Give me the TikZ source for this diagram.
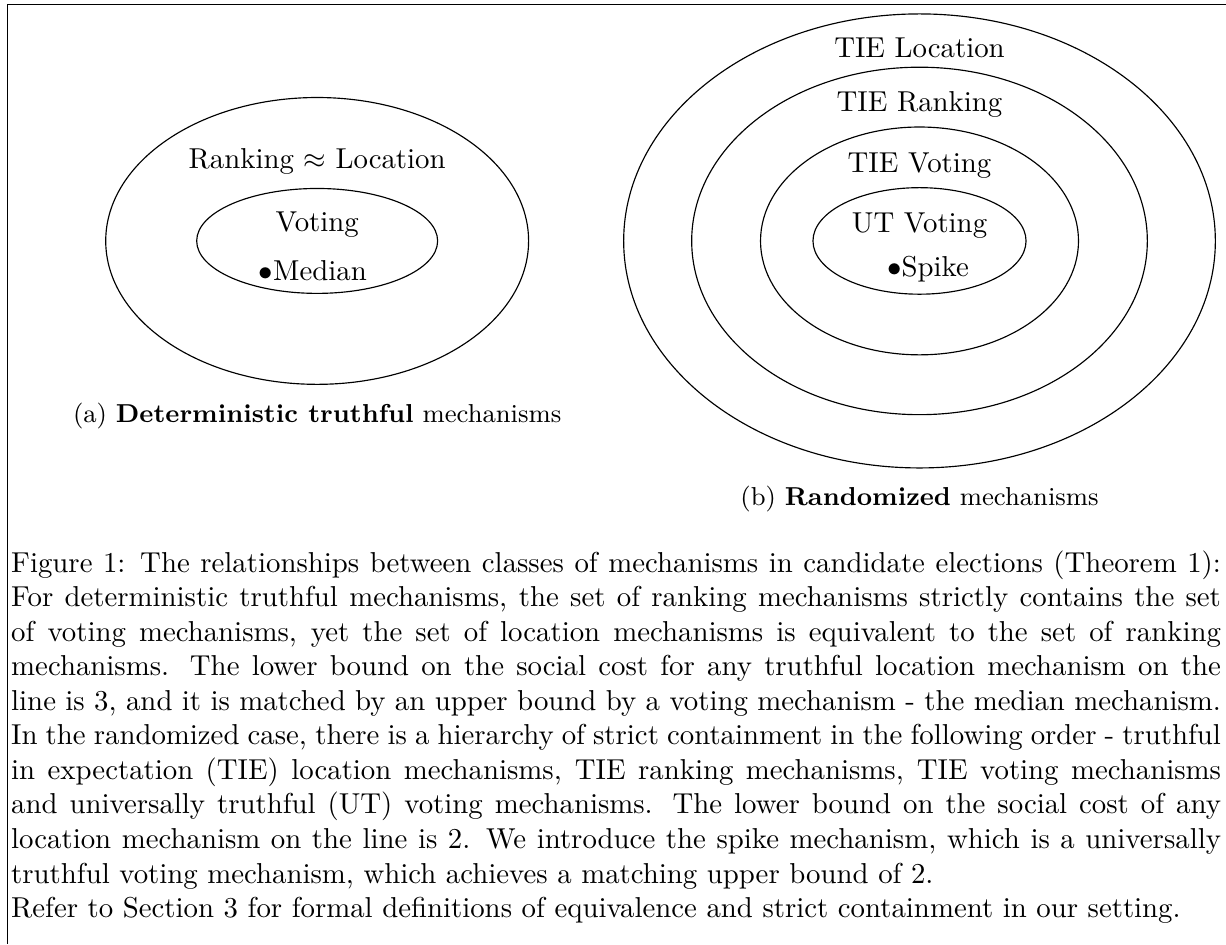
\documentclass[tikz,border=0pt]{standalone}
\usepackage{amsmath,amssymb}
\usepackage{tikz}
\usetikzlibrary{positioning}

\begin{document}
\begin{tikzpicture}[
  lbl/.style={anchor=base, inner sep=0pt},
  dotlbl/.style={anchor=base west, inner sep=0pt},
  subcap/.style={anchor=base, inner sep=0pt, font=\small}
]
  \useasboundingbox (0,0) rectangle (14.96,11.52);

  % Frame round the figure (cut at the right and bottom)
  \draw (14.96,11.46) -- (0.09,11.46) -- (0.09,0);

  % Deterministic truthful mechanisms
  \coordinate (detc) at (3.87,8.58);
  \draw (detc) ellipse [x radius=2.58, y radius=1.75];
  \draw (detc) ellipse [x radius=1.47, y radius=0.64];
  \node[lbl] (rankloc) at (3.87,9.46) {Ranking $\approx$ Location};
  \node[lbl] (voting) at (3.87,8.69) {Voting};
  \node[dotlbl] (median) at (3.15,8.10) {$\bullet$Median};
  \node[subcap] (capa) at (3.87,6.37) {(a) \textbf{Deterministic truthful} mechanisms};

  % Randomized mechanisms
  \coordinate (randc) at (11.22,8.58);
  \draw (randc) ellipse [x radius=3.61, y radius=2.77];
  \draw (randc) ellipse [x radius=2.78, y radius=2.12];
  \draw (randc) ellipse [x radius=1.94, y radius=1.39];
  \draw (randc) ellipse [x radius=1.30, y radius=0.65];
  \node[lbl] (tieloc) at (11.22,10.82) {TIE Location};
  \node[lbl] (tierank) at (11.22,10.16) {TIE Ranking};
  \node[lbl] (tievote) at (11.22,9.42) {TIE Voting};
  \node[lbl] (utvote) at (11.22,8.68) {UT Voting};
  \node[dotlbl] (spike) at (10.82,8.15) {$\bullet$Spike};
  \node[subcap] (capb) at (11.22,5.35) {(b) \textbf{Randomized} mechanisms};

  % Caption
  \node[anchor=base west, inner sep=0pt, text width=420pt, align=justify] (caption) at (0.13,4.54)
    {Figure 1: The relationships between classes of mechanisms in candidate elections (Theorem 1):\linebreak
     For deterministic truthful mechanisms, the set of ranking mechanisms strictly contains the set\linebreak
     of voting mechanisms, yet the set of location mechanisms is equivalent to the set of ranking\linebreak
     mechanisms.  The lower bound on the social cost for any truthful location mechanism on the\linebreak
     line is 3, and it is matched by an upper bound by a voting mechanism - the median mechanism.\linebreak
     In the randomized case, there is a hierarchy of strict containment in the following order - truthful\linebreak
     in expectation (TIE) location mechanisms, TIE ranking mechanisms, TIE voting mechanisms\linebreak
     and universally truthful (UT) voting mechanisms.  The lower bound on the social cost of any\linebreak
     location mechanism on the line is 2. We introduce the spike mechanism, which is a universally\linebreak
     truthful voting mechanism, which achieves a matching upper bound of 2.\\
     Refer to Section 3 for formal definitions of equivalence and strict containment in our setting.};
\end{tikzpicture}
\end{document}
